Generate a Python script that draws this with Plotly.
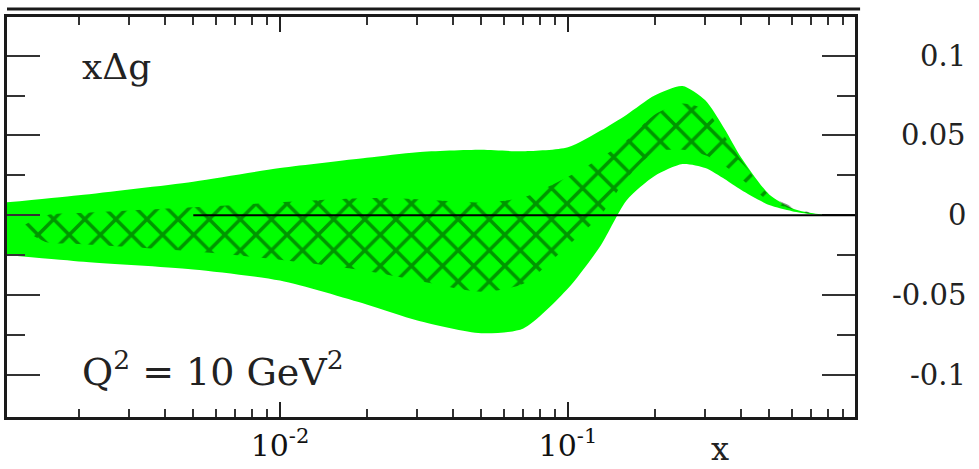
import plotly.graph_objects as go

# ---- data ----
x_band = [0.00112, 0.002, 0.005, 0.01, 0.02, 0.03, 0.05, 0.07, 0.1, 0.13, 0.16,
          0.2, 0.25, 0.3, 0.35, 0.4, 0.5, 0.6, 0.7, 0.8]
band_upper = [0.008, 0.0125, 0.021, 0.0295, 0.036, 0.0395, 0.041, 0.040, 0.0425, 0.053,
              0.063, 0.075, 0.081, 0.072, 0.054, 0.036, 0.013, 0.0044, 0.0013, 0.0]
band_lower = [-0.025, -0.029, -0.034, -0.041, -0.056, -0.066, -0.074, -0.071, -0.046,
              -0.019, 0.0094, 0.0245, 0.032, 0.0295, 0.0226, 0.0157, 0.0063, 0.0025,
              0.0006, 0.0]

x_hatch = [0.00128, 0.00155, 0.002, 0.005, 0.01, 0.02, 0.03, 0.05, 0.07, 0.1, 0.13,
           0.16, 0.2, 0.25, 0.3, 0.35, 0.4, 0.5, 0.6, 0.7, 0.75]
hatch_upper = [-0.0075, 0.0, 0.0013, 0.005, 0.008, 0.0107, 0.010, 0.008, 0.011, 0.024,
               0.036, 0.047, 0.063, 0.070, 0.066, 0.0495, 0.0345, 0.0125, 0.0056,
               0.0013, 0.0]
hatch_lower = [-0.0075, -0.017, -0.018, -0.0226, -0.028, -0.035, -0.041, -0.048, -0.043,
               -0.019, 0.0, 0.023, 0.0395, 0.041, 0.0376, 0.031, 0.0226, 0.0088, 0.0038,
               0.0006, 0.0]

x_major = [0.01, 0.1]
x_major_text = ["10<sup>-2</sup>", "10<sup>-1</sup>"]
x_minor = [m * 10 ** e for e in (-3, -2, -1) for m in range(2, 10)]
y_major = [-0.1, -0.05, 0, 0.05, 0.1]
y_major_text = ["-0.1", "-0.05", "0", "0.05", "0.1"]
y_minor = [-0.075, -0.025, 0.025, 0.075]

FONT = "DejaVu Serif"

fig = go.Figure()

# outer (green) uncertainty band
fig.add_trace(go.Scatter(
    x=x_band + x_band[::-1], y=band_upper + band_lower[::-1],
    fill="toself", fillcolor="#00ff00",
    line=dict(width=0, color="#00ff00", shape="spline", smoothing=0.7),
    mode="lines", hoverinfo="skip", showlegend=False))

# inner hatched band
fig.add_trace(go.Scatter(
    x=x_hatch + x_hatch[::-1], y=hatch_upper + hatch_lower[::-1],
    fill="toself", fillcolor="rgba(0,0,0,0)",
    fillpattern=dict(shape="x", fgcolor="rgb(0,45,0)", bgcolor="rgba(0,0,0,0)",
                     size=22, solidity=0.3),
    line=dict(width=0, color="rgba(0,0,0,0)", shape="spline", smoothing=0.7),
    mode="lines", hoverinfo="skip", showlegend=False))

axis_line = dict(showline=True, linecolor="#1a1a1a", linewidth=3, mirror="allticks",
                 showgrid=False, zeroline=False)

fig.update_xaxes(
    type="log", range=[-2.948, -0.003], ticks="inside", ticklen=15, tickwidth=2,
    tickcolor="#222", tickmode="array", tickvals=x_major, ticktext=x_major_text,
    tickfont=dict(family=FONT, size=30, color="#111"),
    minor=dict(ticks="inside", ticklen=8, tickwidth=2, tickcolor="#333",
               tickmode="array", tickvals=x_minor),
    **axis_line)

fig.update_yaxes(
    range=[-0.1265, 0.1242], ticks="inside", ticklen=33, tickwidth=2, tickcolor="#333",
    tickmode="array", tickvals=y_major, showticklabels=False,
    minor=dict(ticks="inside", ticklen=18, tickwidth=2, tickcolor="#333",
               tickmode="array", tickvals=y_minor),
    **axis_line)

shapes = [
    dict(type="line", xref="x", yref="y", x0=0.005, x1=1, y0=0, y1=0,
         line=dict(color="black", width=2), layer="above"),
    dict(type="line", xref="paper", yref="paper", x0=0, x1=1.006, y0=1.02, y1=1.02,
         line=dict(color="#1a1a1a", width=3)),
]

annotations = [
    dict(text="xΔg", xref="paper", yref="paper", x=(80 - 7) / 848, y=0.8775,
         xanchor="left", yanchor="middle", showarrow=False,
         font=dict(family=FONT, size=36, color="#222")),
    dict(text="Q<sup>2</sup> = 10 GeV<sup>2</sup>", xref="paper", yref="paper",
         x=(80 - 7) / 848, y=0.12, xanchor="left", yanchor="middle", showarrow=False,
         font=dict(family=FONT, size=38, color="#222")),
    dict(text="x", xref="paper", yref="paper", x=(720 - 7) / 848, y=-0.08,
         xanchor="center", yanchor="middle", showarrow=False,
         font=dict(family=FONT, size=32, color="#222")),
]
for v, t in zip(y_major, y_major_text):
    annotations.append(dict(text=t, xref="paper", yref="y", x=(968 - 7) / 848, y=v,
                            xanchor="right", yanchor="middle", showarrow=False,
                            font=dict(family=FONT, size=29, color="#222")))

fig.update_layout(
    width=979, height=469, margin=dict(l=7, r=124, t=17, b=52),
    paper_bgcolor="white", plot_bgcolor="white",
    shapes=shapes, annotations=annotations, showlegend=False)

fig.write_html("out.html")
